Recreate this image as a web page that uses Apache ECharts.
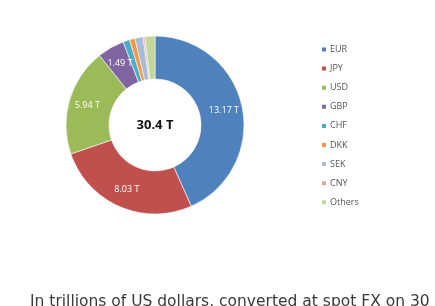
<!DOCTYPE html>
<html><head><meta charset="utf-8">
<script src="https://cdn.jsdelivr.net/npm/echarts@6/dist/echarts.min.js"></script>
<style>html,body{margin:0;padding:0;background:#fff}#c{width:435px;height:306px}</style>
</head><body><div id="c"></div>
<script>
const categories = ["EUR","JPY","USD","GBP","CHF","DKK","SEK","CNY","Others"];
const values = [13.17, 8.03, 5.94, 1.49, 0.37, 0.30, 0.45, 0.10, 0.55];
const labelsShown = ["13.17 T","8.03 T","5.94 T","1.49 T","","","","",""];
const colors = ["#4F81BD","#C0504D","#9BBB59","#8064A2","#4BACC6","#F79646","#AABAD7","#D9A8A7","#C3D69B"];
const totalText = "30.4 T";
const footnote = "In trillions of US dollars, converted at spot FX on 30";

const chart = echarts.init(document.getElementById('c'), null, {renderer:'canvas'});
chart.setOption({
  animation:false,
  color: colors,
  legend:{
    orient:'vertical', left:320, top:44, padding:0,
    itemWidth:6, itemHeight:6, itemGap:8.1, icon:'rect',
    textStyle:{fontSize:9, lineHeight:11, color:'#555', fontFamily:'"Open Sans", sans-serif', padding:[0,0,0,-2]},
    data: categories
  },
  graphic:[
    {type:'text', left:30, top:294, style:{text:footnote, font:'15.5px "DejaVu Sans"', fill:'#3a3a3a'}},
    {type:'text', x:155, y:125, style:{text:totalText, font:'bold 13px "Open Sans"', fill:'#111', align:'center', verticalAlign:'middle'}}
  ],
  series:[{
    type:'pie', center:[155,125], radius:[46,89], startAngle:90, clockwise:true,
    avoidLabelOverlap:false,
    itemStyle:{borderColor:'#fff', borderWidth:0.6},
    label:{show:true, position:'inside', color:'#fff', fontSize:9, fontFamily:'"Open Sans", sans-serif',
      formatter:p=>labelsShown[p.dataIndex]},
    labelLine:{show:false},
    emphasis:{disabled:true},
    data: categories.map((n,i)=>({name:n, value:values[i]}))
  }]
});
</script></body></html>
